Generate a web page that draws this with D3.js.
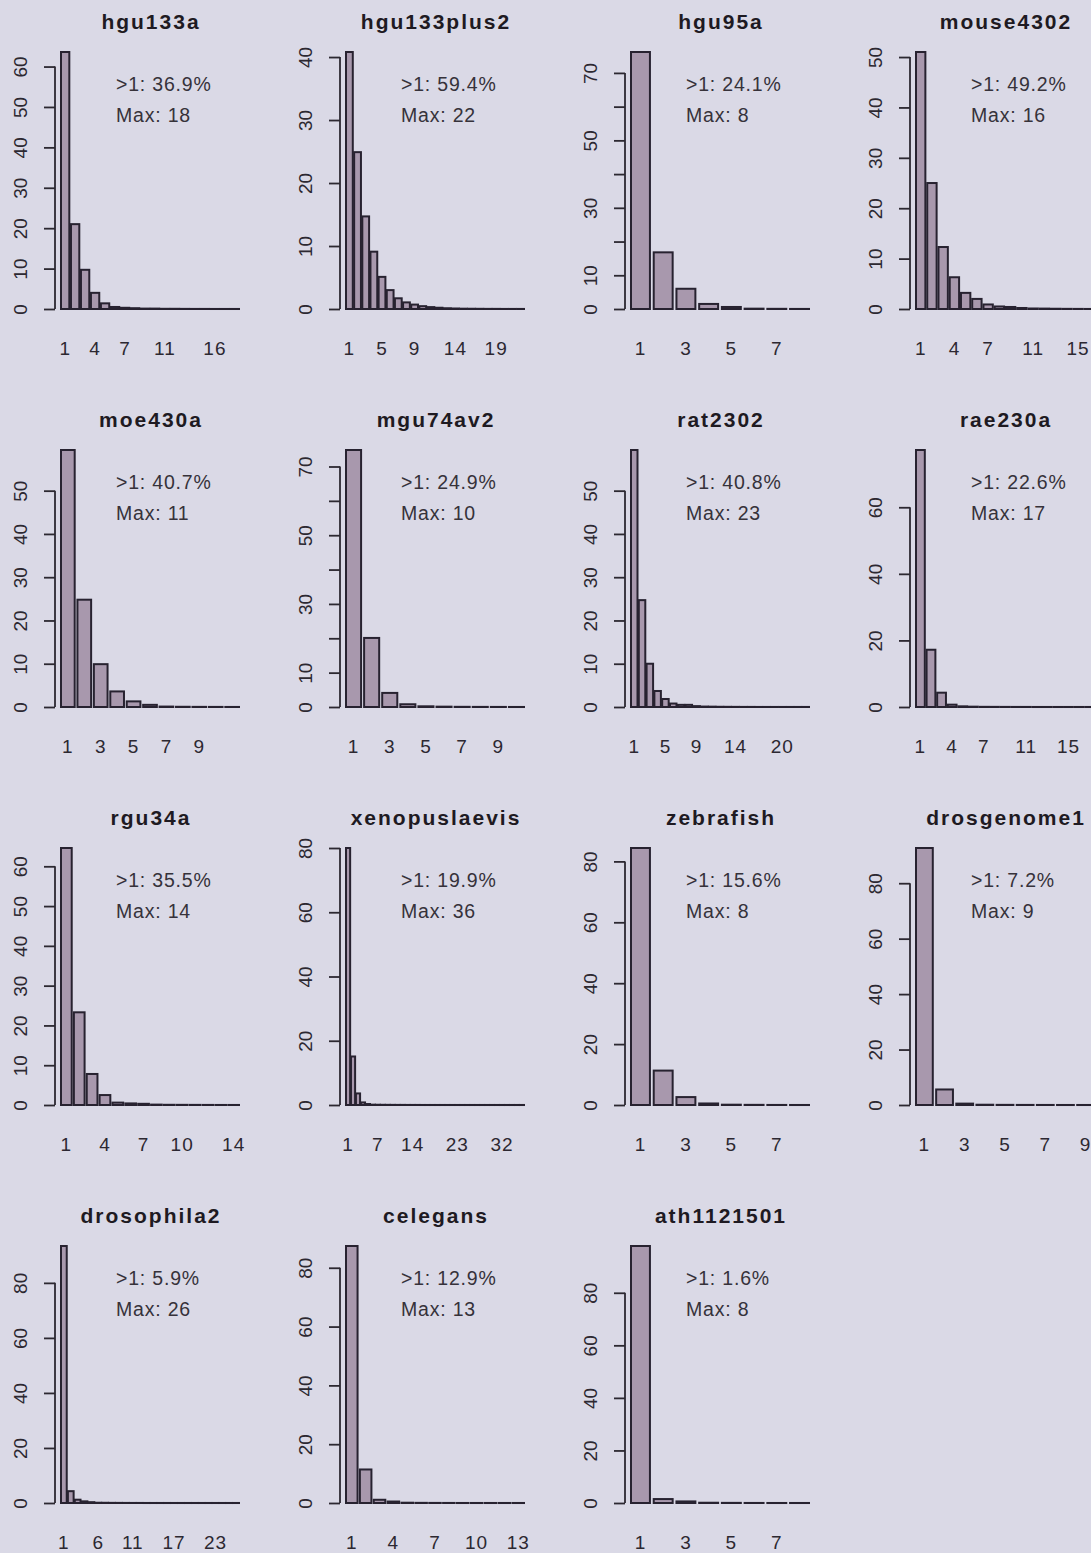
<!DOCTYPE html>
<html>
<head>
<meta charset="utf-8">
<script src="https://cdn.jsdelivr.net/npm/d3@7"></script>
<style>
  body { margin: 0; background: #dad9e6; }
  svg { display: block; }
</style>
</head>
<body>
<div id="chart"></div>
<script>
// one histogram per chip type, values in percent
const panelNames = ['hgu133a', 'hgu133plus2', 'hgu95a', 'mouse4302', 'moe430a', 'mgu74av2', 'rat2302', 'rae230a',
	'rgu34a', 'xenopuslaevis', 'zebrafish', 'drosgenome1', 'drosophila2', 'celegans', 'ath1121501'];

const barHeights = [
	[63.6, 21.0, 9.7, 4.0, 1.4, 0.5, 0.3, 0.2, 0.1, 0.1, 0.05, 0.05, 0.03, 0.02, 0.02, 0.01, 0.01, 0.01],
	[40.8, 24.9, 14.7, 9.1, 5.1, 3.0, 1.7, 1.05, 0.7, 0.45, 0.3, 0.2, 0.12, 0.08, 0.05, 0.04, 0.03, 0.02, 0.02, 0.01, 0.01, 0.01],
	[76.2, 16.8, 6.0, 1.5, 0.6, 0.1, 0.05, 0.02],
	[51.0, 25.0, 12.3, 6.3, 3.2, 2.0, 0.9, 0.5, 0.4, 0.2, 0.1, 0.08, 0.05, 0.03, 0.02, 0.01],
	[59.4, 24.8, 9.9, 3.6, 1.3, 0.5, 0.1, 0.05, 0.03, 0.02, 0.01],
	[74.8, 20.1, 4.1, 0.8, 0.2, 0.1, 0.05, 0.03, 0.02, 0.01],
	[59.4, 24.7, 10.0, 3.7, 1.85, 0.8, 0.5, 0.5, 0.2, 0.1, 0.08, 0.05, 0.04, 0.03, 0.02, 0.02, 0.01, 0.01, 0.01, 0.01, 0.01, 0.01, 0.01],
	[77.2, 17.2, 4.3, 0.7, 0.2, 0.1, 0.05, 0.04, 0.03, 0.02, 0.02, 0.01, 0.01, 0.01, 0.01, 0.01, 0.01],
	[64.6, 23.3, 7.8, 2.5, 0.6, 0.4, 0.3, 0.1, 0.05, 0.04, 0.03, 0.02, 0.01, 0.01],
	[80.0, 15.1, 3.6, 0.8, 0.3, 0.1, 0.08, 0.06, 0.05, 0.04, 0.03, 0.03, 0.02, 0.02, 0.02, 0.01, 0.01, 0.01,
		0.01, 0.01, 0.01, 0.01, 0.01, 0.01, 0.01, 0.01, 0.01, 0.01, 0.01, 0.01, 0.01, 0.01, 0.01, 0.01, 0.01, 0.01],
	[84.4, 11.3, 2.6, 0.5, 0.1, 0.05, 0.02, 0.01],
	[92.7, 5.6, 0.5, 0.1, 0.05, 0.03, 0.02, 0.01, 0.01],
	[93.4, 4.3, 1.2, 0.6, 0.3, 0.1, 0.08, 0.05, 0.04, 0.03, 0.02, 0.02, 0.01, 0.01, 0.01, 0.01, 0.01, 0.01,
		0.01, 0.01, 0.01, 0.01, 0.01, 0.01, 0.01, 0.01],
	[87.4, 11.4, 1.1, 0.5, 0.1, 0.05, 0.03, 0.02, 0.01, 0.01, 0.01, 0.01, 0.01],
	[97.8, 1.5, 0.6, 0.1, 0.05, 0.02, 0.01, 0.01]
];

const overOnePct = ['36.9%', '59.4%', '24.1%', '49.2%', '40.7%', '24.9%', '40.8%', '22.6%',
	'35.5%', '19.9%', '15.6%', '7.2%', '5.9%', '12.9%', '1.6%'];

const yTicks = [
	[0, 10, 20, 30, 40, 50, 60], [0, 10, 20, 30, 40], [0, 10, 20, 30, 40, 50, 60, 70], [0, 10, 20, 30, 40, 50],
	[0, 10, 20, 30, 40, 50], [0, 10, 20, 30, 40, 50, 60, 70], [0, 10, 20, 30, 40, 50], [0, 20, 40, 60],
	[0, 10, 20, 30, 40, 50, 60], [0, 20, 40, 60, 80], [0, 20, 40, 60, 80], [0, 20, 40, 60, 80],
	[0, 20, 40, 60, 80], [0, 20, 40, 60, 80], [0, 20, 40, 60, 80]
];
const yLabels = [
	[0, 10, 20, 30, 40, 50, 60], [0, 10, 20, 30, 40], [0, 10, 30, 50, 70], [0, 10, 20, 30, 40, 50],
	[0, 10, 20, 30, 40, 50], [0, 10, 30, 50, 70], [0, 10, 20, 30, 40, 50], [0, 20, 40, 60],
	[0, 10, 20, 30, 40, 50, 60], [0, 20, 40, 60, 80], [0, 20, 40, 60, 80], [0, 20, 40, 60, 80],
	[0, 20, 40, 60, 80], [0, 20, 40, 60, 80], [0, 20, 40, 60, 80]
];
const xLabels = [
	[1, 4, 7, 11, 16], [1, 5, 9, 14, 19], [1, 3, 5, 7], [1, 4, 7, 11, 15], [1, 3, 5, 7, 9], [1, 3, 5, 7, 9],
	[1, 5, 9, 14, 20], [1, 4, 7, 11, 15], [1, 4, 7, 10, 14], [1, 7, 14, 23, 32], [1, 3, 5, 7], [1, 3, 5, 7, 9],
	[1, 6, 11, 17, 23], [1, 4, 7, 10, 13], [1, 3, 5, 7]
];

const width = 1091, height = 1553;
const colStep = 285, rowStep = 398;
const axisX0 = 55, baseY0 = 309;
const barSpan = 178, barTopGap = 257;

const fill = '#a898ad', edge = '#272230', ink = '#2c2831';

const svg = d3.select('#chart').append('svg')
	.attr('width', width)
	.attr('height', height)
	.style('font-family', '"Liberation Sans", Arial, sans-serif');

svg.append('rect').attr('width', width).attr('height', height).attr('fill', '#dad9e6');

panelNames.forEach((name, i) => {
	const col = i % 4, row = Math.floor(i / 4);
	const ax = axisX0 + col * colStep;
	const base = baseY0 + row * rowStep;
	const vals = barHeights[i];
	const n = vals.length;

	const x = d3.scaleBand()
		.domain(d3.range(1, n + 1))
		.range([ax + 6, ax + 6 + barSpan])
		.paddingInner(0.1667)
		.paddingOuter(0);

	const y = d3.scaleLinear()
		.domain([0, d3.max(vals)])
		.range([base, base - barTopGap]);

	const g = svg.append('g').attr('class', 'panel');

	// bars
	g.selectAll('rect.bar')
		.data(vals)
		.enter()
		.append('rect')
		.attr('class', 'bar')
		.attr('x', (d, k) => x(k + 1))
		.attr('y', d => y(d))
		.attr('width', x.bandwidth())
		.attr('height', d => Math.max(0.05, y(0) - y(d)))
		.attr('fill', fill)
		.attr('stroke', edge)
		.attr('stroke-width', 2);

	// y axis (R style: line only from first to last tick)
	const ticks = yTicks[i];
	const labs = yLabels[i];
	const yAxis = g.append('g')
		.attr('transform', 'translate(' + ax + ',0)')
		.call(d3.axisLeft(y).tickValues(ticks).tickSize(11).tickSizeOuter(0)
			.tickFormat(d => (labs.includes(d) ? d : '')));
	yAxis.select('.domain').remove();
	yAxis.selectAll('line').attr('stroke', ink).attr('stroke-width', 1.8);
	yAxis.append('line')
		.attr('y1', y(0))
		.attr('y2', y(ticks[ticks.length - 1]))
		.attr('stroke', ink)
		.attr('stroke-width', 1.8);
	yAxis.selectAll('text')
		.attr('transform', 'rotate(-90)')
		.attr('x', 0)
		.attr('y', -28)
		.attr('dy', 0)
		.attr('text-anchor', 'middle')
		.attr('fill', ink)
		.style('font-size', '19px');

	// x labels
	const xAxis = g.append('g')
		.attr('transform', 'translate(0,' + base + ')')
		.call(d3.axisBottom(x).tickValues(xLabels[i]).tickSize(0));
	xAxis.select('.domain').remove();
	xAxis.selectAll('text')
		.attr('y', 33)
		.attr('fill', ink)
		.style('font-size', '19px')
		.style('letter-spacing', '1px');

	// title
	g.append('text')
		.attr('x', ax + 96)
		.attr('y', base - 280)
		.attr('text-anchor', 'middle')
		.attr('fill', '#1e1a22')
		.style('font-size', '21px')
		.style('font-weight', 'bold')
		.style('letter-spacing', '2px')
		.text(name);

	// annotation
	const note = g.append('text')
		.attr('fill', '#36323a')
		.style('font-size', '19.5px')
		.style('letter-spacing', '0.8px');
	note.append('tspan')
		.attr('x', ax + 61)
		.attr('y', base - 218)
		.text('>1: ' + overOnePct[i]);
	note.append('tspan')
		.attr('x', ax + 61)
		.attr('y', base - 187)
		.text('Max: ' + n);
});
</script>
</body>
</html>
